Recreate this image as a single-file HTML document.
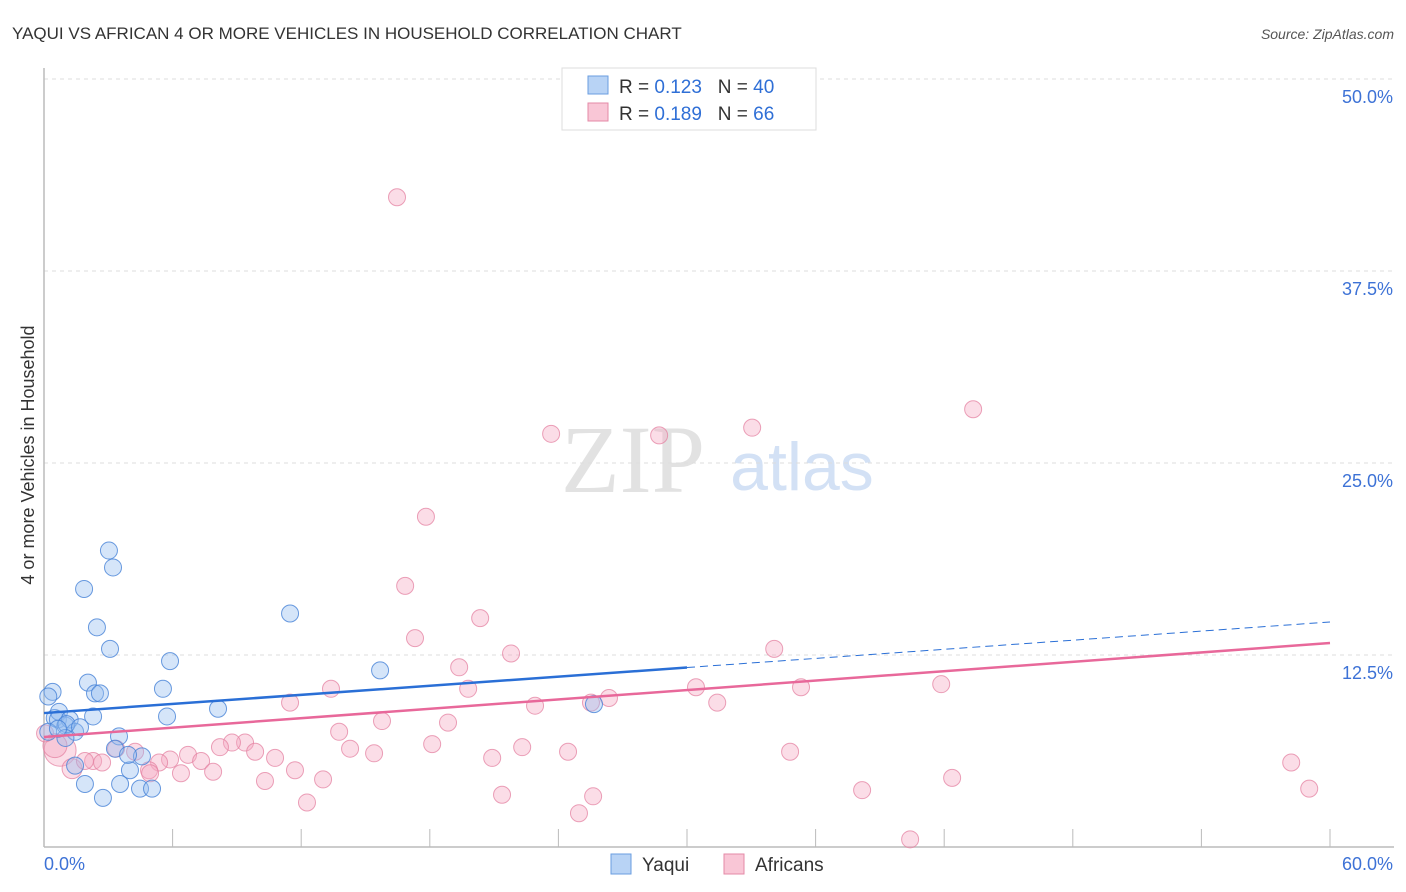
<!DOCTYPE html>
<html><head><meta charset="utf-8"><style>
body{margin:0;background:#fff;font-family:"Liberation Sans",sans-serif;}
svg{display:block}
</style></head><body>
<svg id="c" width="1406" height="892">
<text x="12" y="39" font-size="17" fill="#333">YAQUI VS AFRICAN 4 OR MORE VEHICLES IN HOUSEHOLD CORRELATION CHART</text>
<text x="1394" y="39" font-size="14" fill="#555" font-style="italic" text-anchor="end">Source: ZipAtlas.com</text>
<text x="633" y="492" font-size="96" fill="#e2e2e2" font-family="Liberation Serif,serif" text-anchor="middle">ZIP</text>
<text x="802" y="490" font-size="68" fill="#d3e1f5" text-anchor="middle">atlas</text>
<text transform="translate(34,455) rotate(-90)" font-size="18" fill="#333" text-anchor="middle">4 or more Vehicles in Household</text>
<g id="grid"></g><g id="marks"></g>
<g>
<rect x="562" y="68" width="254" height="62" fill="#fff" stroke="#ddd"/>
<rect x="588" y="76" width="20" height="18" fill="#b8d3f5" stroke="#6a9ee0"/>
<rect x="588" y="103" width="20" height="18" fill="#f9c6d6" stroke="#e48aa7"/>
<text x="619" y="93" font-size="19" fill="#333">R = <tspan fill="#2f6fd6">0.123</tspan>&#160;&#160;&#160;N = <tspan fill="#2f6fd6">40</tspan></text>
<text x="619" y="120" font-size="19" fill="#333">R = <tspan fill="#2f6fd6">0.189</tspan>&#160;&#160;&#160;N = <tspan fill="#2f6fd6">66</tspan></text>
</g>
<g>
<rect x="611" y="854" width="20" height="20" fill="#b8d3f5" stroke="#6a9ee0"/>
<text x="642" y="871" font-size="19" fill="#333">Yaqui</text>
<rect x="724" y="854" width="20" height="20" fill="#f9c6d6" stroke="#e48aa7"/>
<text x="755" y="871" font-size="19" fill="#333">Africans</text>
</g>
<text x="44" y="870" font-size="18" fill="#3d72d6">0.0%</text>
<text x="1393" y="870" font-size="18" fill="#3d72d6" text-anchor="end">60.0%</text>
</svg>
<script>
const yTicks=[12.5,25,37.5,50];
const yTickLabels=["12.5%","25.0%","37.5%","50.0%"];
const xTicks=[0,6,12,18,24,30,36,42,48,54,60];
const yaquiX=[0.4,0.2,0.5,0.7,0.65,1.0,1.2,1.45,1.05,1.68,2.29,2.05,2.38,2.61,1.87,2.47,3.03,3.22,3.08,5.88,5.55,5.74,8.12,11.48,15.68,25.66,3.5,3.31,4.01,4.57,3.92,1.91,2.75,3.55,4.48,5.04,1.45,0.2,1.0,0.65];
const yaquiY=[10.1,9.8,8.4,8.8,8.3,7.9,8.3,7.5,8.0,7.8,8.5,10.7,10.0,10.0,16.8,14.3,19.3,18.2,12.9,12.1,10.3,8.5,9.0,15.2,11.5,9.3,7.2,6.4,5.0,5.9,6.0,4.1,3.2,4.1,3.8,3.8,5.3,7.5,7.1,7.7];
const afrX=[16.47,23.66,28.7,33.04,43.35,17.82,16.85,20.35,17.31,21.79,19.37,34.07,13.39,19.79,30.42,35.32,41.86,11.48,22.91,25.52,26.36,31.41,15.77,18.85,13.77,18.11,14.28,15.4,9.38,8.77,8.21,9.85,6.72,5.88,5.37,4.9,7.33,7.89,6.39,10.78,11.71,10.31,13.02,12.27,20.91,22.31,24.45,21.37,25.62,24.96,34.81,38.17,42.37,40.41,58.19,59.03,0.75,0.51,1.31,2.29,2.71,3.36,4.25,4.95,1.91,0.05];
const afrY=[42.3,26.9,26.8,27.3,28.5,21.5,17.0,14.9,13.6,12.6,11.7,12.9,10.3,10.3,10.4,10.4,10.6,9.4,9.2,9.4,9.7,9.4,8.2,8.1,7.5,6.7,6.4,6.1,6.8,6.8,6.5,6.2,6.0,5.7,5.5,5.0,5.6,4.9,4.8,5.8,5.0,4.3,4.4,2.9,5.8,6.5,6.2,3.4,3.3,2.2,6.2,3.7,4.5,0.5,5.5,3.8,6.3,6.6,5.1,5.6,5.5,6.4,6.2,4.8,5.6,7.4];
const afrR=[8.5,8.5,8.5,8.5,8.5,8.5,8.5,8.5,8.5,8.5,8.5,8.5,8.5,8.5,8.5,8.5,8.5,8.5,8.5,8.5,8.5,8.5,8.5,8.5,8.5,8.5,8.5,8.5,8.5,8.5,8.5,8.5,8.5,8.5,8.5,8.5,8.5,8.5,8.5,8.5,8.5,8.5,8.5,8.5,8.5,8.5,8.5,8.5,8.5,8.5,8.5,8.5,8.5,8.5,8.5,8.5,16,12,10,8.5,8.5,8.5,8.5,8.5,8.5,8.5];
const yaquiLine=[8.72,14.65];
const afrLine=[7.16,13.28];
const X0=44,X1=1330,Y0=847,Y1=79;
const sx=v=>X0+(X1-X0)*v/60, sy=v=>Y0-(Y0-Y1)*v/50;
const NS="http://www.w3.org/2000/svg";
function mk(t,a,p){const e=document.createElementNS(NS,t);for(const k in a)e.setAttribute(k,a[k]);p.appendChild(e);return e;}
const g=document.getElementById('grid'),m=document.getElementById('marks');
yTicks.forEach((t,i)=>{
 const l=mk('line',{x1:X0,x2:1394,y1:sy(t),y2:sy(t),stroke:'#ddd','stroke-dasharray':'4,4'},g);
 
 
 const tx=mk('text',{x:1393,y:sy(t)+24,'font-size':18,fill:'#3d72d6','text-anchor':'end'},g);
 tx.textContent=yTickLabels[i];
 
 
});
const ya=mk('line',{x1:X0,x2:X0,y1:68,y2:Y0,stroke:'#bbb','stroke-width':1.5},g);


const xa=mk('line',{x1:X0,x2:1394,y1:Y0,y2:Y0,stroke:'#bbb','stroke-width':1.5},g);


xTicks.forEach(t=>{const l=mk('line',{x1:sx(t),x2:sx(t),y1:Y0,y2:Y0-18,stroke:'#bbb'},g);
 
 });
afrX.forEach((x,i)=>{const c=mk('circle',{cx:sx(x),cy:sy(afrY[i]),r:afrR[i],fill:'rgba(246,170,196,0.4)',stroke:'rgba(228,130,162,0.75)','stroke-width':1},m);
 
 });
yaquiX.forEach((x,i)=>{const c=mk('circle',{cx:sx(x),cy:sy(yaquiY[i]),r:8.5,fill:'rgba(150,190,240,0.4)',stroke:'rgba(70,130,215,0.8)','stroke-width':1},m);
 
 });
const yl=v=>yaquiLine[0]+(yaquiLine[1]-yaquiLine[0])*v/60;
const l1=mk('line',{x1:sx(0),y1:sy(yl(0)),x2:sx(30),y2:sy(yl(30)),stroke:'#2a6fd6','stroke-width':2.5},m);


const l2=mk('line',{x1:sx(30),y1:sy(yl(30)),x2:sx(60),y2:sy(yl(60)),stroke:'#2a6fd6','stroke-width':1,'stroke-dasharray':'8,5'},m);


const l3=mk('line',{x1:sx(0),y1:sy(afrLine[0]),x2:sx(60),y2:sy(afrLine[1]),stroke:'#e8689a','stroke-width':2.5},m);


</script>
</body></html>
